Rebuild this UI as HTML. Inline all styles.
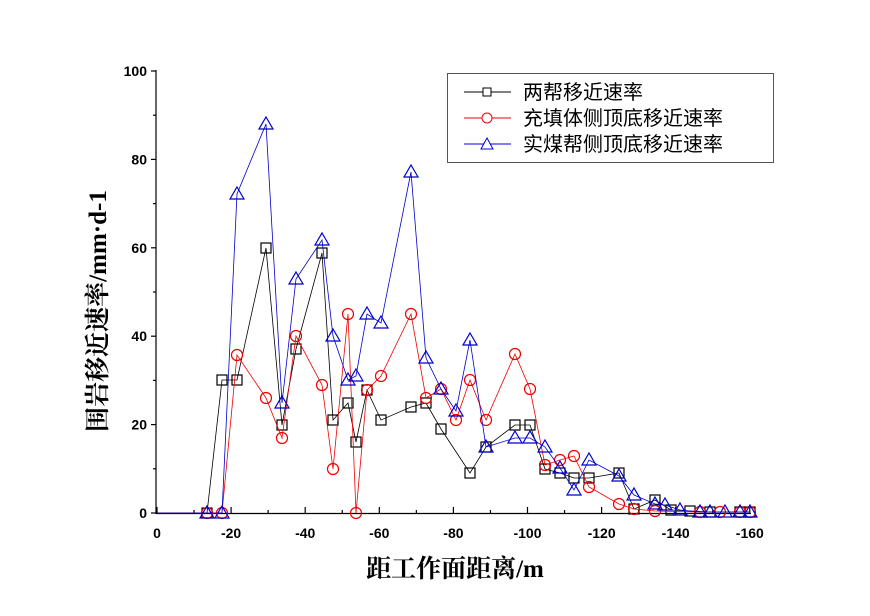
<!DOCTYPE html>
<html><head><meta charset="utf-8"><style>
body{margin:0;background:#fff;width:870px;height:616px;overflow:hidden}
svg{display:block}
text{font-family:"Liberation Sans",Arial,sans-serif}
</style></head><body>
<svg id="s" width="870" height="616" xmlns="http://www.w3.org/2000/svg">
<rect width="870" height="616" fill="#fff"/>
<g id="axes" stroke="#000" stroke-width="1.2">
<line x1="156" y1="70" x2="156" y2="514"/>
<line x1="156" y1="513.5" x2="751" y2="513.5"/>
</g>
<g id="ticks" stroke="#000" stroke-width="1.2"></g>
<g id="labels" font-size="14" font-weight="bold" fill="#000"></g>
<g id="series"></g>
<text x="455" y="577" text-anchor="middle" font-size="25" font-weight="bold" style="font-family:'Liberation Serif','Noto Serif CJK SC',serif">距工作面距离/m</text>
<text transform="translate(106,311) rotate(-90)" text-anchor="middle" font-size="25" font-weight="bold" style="font-family:'Liberation Serif','Noto Serif CJK SC',serif">围岩移近速率/mm·d-1</text>
<rect x="447.5" y="73.5" width="326" height="89" fill="#fff" stroke="#555" stroke-width="1"/>
<g font-size="20" style="font-family:'Liberation Serif','Noto Serif CJK SC',serif">
<line x1="464" y1="92" x2="511" y2="92" stroke="#000"/><rect x="483" y="88" width="8" height="8" fill="#fff" stroke="#000"/>
<text x="523" y="99">两帮移近速率</text>
<line x1="464" y1="118" x2="511" y2="118" stroke="#e00"/><circle cx="487" cy="118" r="5" fill="#fff" stroke="#e00"/>
<text x="523" y="125">充填体侧顶底移近速率</text>
<line x1="464" y1="144" x2="511" y2="144" stroke="#00c"/><polygon points="487,138 493,149 481,149" fill="#fff" stroke="#00c"/>
<text x="523" y="151">实煤帮侧顶底移近速率</text>
</g>
</svg>
<script>
const NS="http://www.w3.org/2000/svg";
function el(t,a,p){const e=document.createElementNS(NS,t);for(const k in a)e.setAttribute(k,a[k]);p.appendChild(e);return e;}
const tk=document.getElementById('ticks'),lb=document.getElementById('labels');
for(let i=0;i<=5;i++){const y=513-i*88.4;el('line',{x1:151,y1:y,x2:156,y2:y},tk);const t=el('text',{x:147,y:y+5,'text-anchor':'end'},lb);t.textContent=i*20;
 if(i<5){const ym=y-44.2;el('line',{x1:153,y1:ym,x2:156,y2:ym},tk);}}
for(let i=0;i<=8;i++){const x=157+i*74.1;el('line',{x1:x,y1:513,x2:x,y2:507},tk);const t=el('text',{x:x,y:538,'text-anchor':'middle'},lb);t.textContent=i==0?'0':'-'+(i*20);
 if(i<8){const xm=x+37.05;el('line',{x1:xm,y1:513,x2:xm,y2:510},tk);}}
const B=[[157,513],[207,513],[222,380],[237,380],[266,248],[282,425],[296,349],[322,253],[333,420],[348,403],[356,442],[367,390],[381,420],[411,407],[426,403],[441,429],[470,473],[486,447],[515,425],[530,425],[545,469],[560,473],[574,478],[589,478],[619,473],[634,509],[655,500],[671,510],[690,511],[710,512],[740,512],[750,512]];
const R=[[157,513],[207,513],[222,513],[237,355],[266,398],[282,438],[296,336],[322,385],[333,469],[348,314],[356,513],[367,390],[381,376],[411,314],[426,398],[441,389],[456,420],[470,380],[486,420],[515,354],[530,389],[545,465],[560,460],[574,456],[589,487],[619,504],[634,509],[655,511],[700,512],[720,512],[740,512],[750,512]];
const U=[[157,513],[207,513],[222,513],[237,194],[266,124],[282,403],[296,279],[322,240],[333,336],[348,380],[356,376],[367,314],[381,323],[411,172],[426,358],[441,389],[456,411],[470,340],[486,447],[515,438],[530,438],[545,447],[560,468],[574,490],[589,460],[619,476],[634,495],[655,504],[665,505],[680,510],[700,512],[710,512],[725,512],[740,512],[750,512]];
const g=document.getElementById('series');
function draw(d,c,m){el('polyline',{points:d.map(p=>p.join(',')).join(' '),fill:'none',stroke:c,'stroke-width':0.8},g);
 d.slice(1).forEach(([x,y])=>{if(m=='s')el('rect',{x:x-5,y:y-5,width:10,height:10,fill:'none',stroke:c,'stroke-width':1.2},g);
 else if(m=='c')el('circle',{cx:x,cy:y,r:5.5,fill:'none',stroke:c,'stroke-width':1.2},g);
 else el('polygon',{points:`${x},${y-7} ${x+7},${y+5} ${x-7},${y+5}`,fill:'none',stroke:c,'stroke-width':1.2},g);});}
draw(B,'#000','s');draw(R,'#e00','c');draw(U,'#00c','t');
</script>
</body></html>
